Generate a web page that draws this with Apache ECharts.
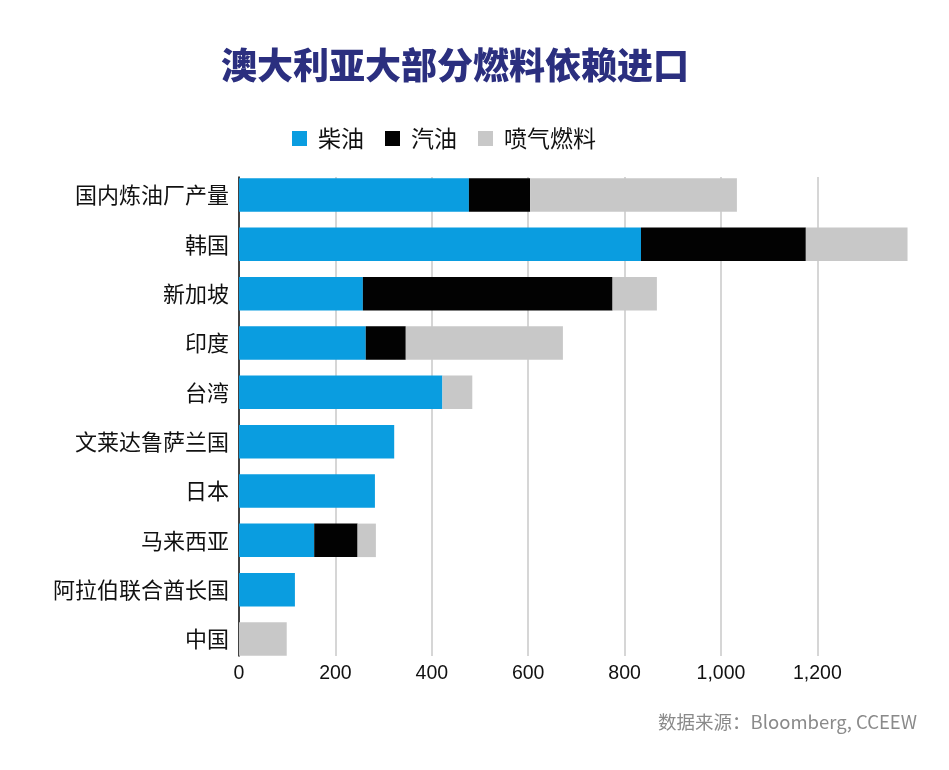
<!DOCTYPE html>
<html>
<head>
<meta charset="utf-8">
<script src="https://cdn.jsdelivr.net/npm/echarts@6/dist/echarts.min.js"></script>
<style>html,body{margin:0;padding:0;background:#fff;}#chart{width:949px;height:770px;}</style>
</head>
<body>
<div id="chart"></div>
<script>
const categories = ['国内炼油厂产量','韩国','新加坡','印度','台湾','文莱达鲁萨兰国','日本','马来西亚','阿拉伯联合酋长国','中国'];
const diesel   = [477, 834, 257, 263, 422, 322, 282, 156, 116, 0];
const gasoline = [127, 342, 518,  83,   0,   0,   0,  90,   0, 0];
const jetFuel  = [429, 211,  92, 326,  62,   0,   0,  38,   0, 99];
const seriesNames = ['柴油','汽油','喷气燃料'];
const xTicks = [0, 200, 400, 600, 800, 1000, 1200];

const chart = echarts.init(document.getElementById('chart'));
const cjk = '"Noto Sans CJK SC", "Noto Sans", sans-serif';
const gridL = 239, plotW = 578.4;
const fmt = v => v.toLocaleString('en-US');

function barSeries(name, data, color) {
  return {
    name, type: 'bar', stack: 'total', data,
    xAxisIndex: 0, yAxisIndex: 0,
    barWidth: 33.5, clip: false,
    itemStyle: { color },
    emphasis: { disabled: true }
  };
}

chart.setOption({
  backgroundColor: '#ffffff',
  animation: false,
  title: {
    text: '澳大利亚大部分燃料依赖进口',
    left: 216, top: 42,
    textStyle: { fontFamily: cjk, fontSize: 36, fontWeight: 900, color: '#2b2f7f' }
  },
  legend: {
    data: seriesNames,
    left: 287, top: 122,
    itemWidth: 15, itemHeight: 15, itemGap: 21,
    icon: 'rect',
    textStyle: { fontFamily: cjk, fontSize: 23, color: '#111', padding: [0, 0, 0, 6] }
  },
  graphic: [{
    type: 'text', right: 32, top: 713,
    style: { text: '数据来源：Bloomberg, CCEEW', font: '18.5px "Noto Sans CJK SC", sans-serif', fill: '#8a8a8a' }
  }],
  grid: [
    { left: gridL, width: plotW, top: 170.3, height: 493.4 },
    { left: gridL, width: plotW, top: 177, height: 479 }
  ],
  xAxis: [
    { gridIndex: 0, type: 'value', min: 0, max: 1200, interval: 200, show: false },
    { gridIndex: 1, type: 'value', min: 0, max: 1200, interval: 200,
      axisLine: { show: false }, axisTick: { show: false },
      splitLine: { show: true, lineStyle: { color: '#c8c8c8', width: 1.5 } },
      axisLabel: { margin: 8, fontFamily: '"Liberation Sans", Arial, sans-serif', fontSize: 19.5, color: '#111', formatter: fmt }
    }
  ],
  yAxis: [
    { gridIndex: 0, type: 'category', data: categories, inverse: true,
      axisLine: { show: false }, axisTick: { show: false }, splitLine: { show: false },
      axisLabel: { margin: 10, fontFamily: cjk, fontSize: 22, color: '#111' }
    },
    { gridIndex: 1, type: 'category', data: categories, inverse: true,
      axisLine: { show: true, lineStyle: { color: '#111', width: 1.5 } },
      axisTick: { show: false }, axisLabel: { show: false }, splitLine: { show: false }
    }
  ],
  series: [
    barSeries(seriesNames[0], diesel, '#0a9de0'),
    barSeries(seriesNames[1], gasoline, '#020202'),
    barSeries(seriesNames[2], jetFuel, '#c8c8c8')
  ]
});
</script>
</body>
</html>
